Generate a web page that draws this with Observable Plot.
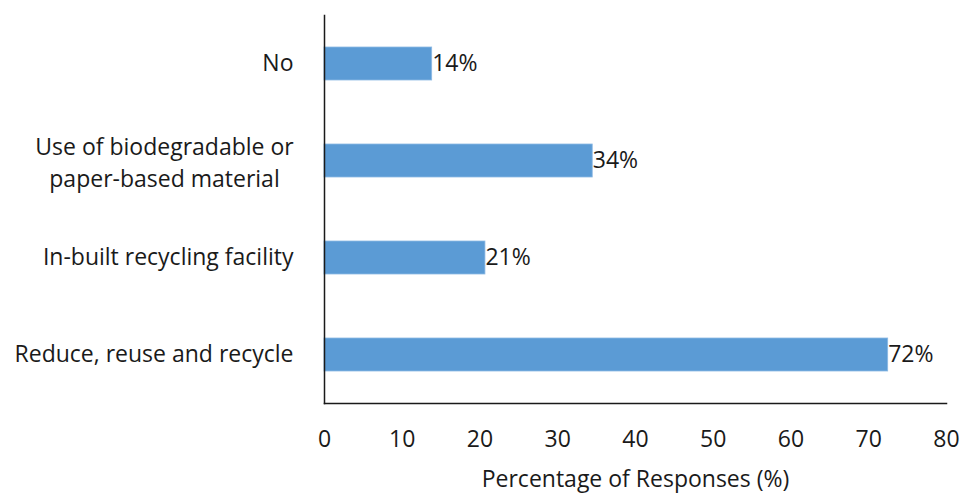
<!DOCTYPE html>
<html>
<head>
<meta charset="utf-8">
<script src="https://cdn.jsdelivr.net/npm/d3@7"></script>
<script src="https://cdn.jsdelivr.net/npm/@observablehq/plot@0.6"></script>
<style>
  body { margin: 0; background: #fff; }
  svg { font-family: "Open Sans", Lato, sans-serif; }
</style>
</head>
<body>
<div id="chart"></div>
<script>
const categories = [
  "No",
  "Use of biodegradable or\npaper-based material",
  "In-built recycling facility",
  "Reduce, reuse and recycle"
];
const values = [13.85, 34.5, 20.7, 72.5];
const valueLabels = ["14%", "34%", "21%", "72%"];
const xTicks = [0, 10, 20, 30, 40, 50, 60, 70, 80];
const xTitle = "Percentage of Responses (%)";

const data = categories.map((c, i) => ({category: c, value: values[i], label: valueLabels[i]}));
const multi = categories.filter(c => c.includes("\n"));
const single = categories.filter(c => !c.includes("\n"));

const ink = "#1a1a1a";
const fs = 23;
const chart = Plot.plot({
  width: 961,
  height: 493,
  marginTop: 15,
  marginBottom: 90,
  marginLeft: 324,
  marginRight: 15,
  style: {fontSize: fs + "px", color: ink, background: "#fff"},
  x: {domain: [0, 80], ticks: xTicks},
  y: {domain: categories, paddingInner: 0.66, paddingOuter: 0.33, axis: null},
  marks: [
    Plot.barX(data, {x: "value", y: "category", fill: "#5B9BD5", stroke: "#8DB9E3", strokeWidth: 0.8}),
    Plot.text(data, {x: "value", y: "category", text: "label", textAnchor: "start", dx: 0, fill: ink, fontSize: fs}),
    Plot.text(single, {y: d => d, frameAnchor: "left", textAnchor: "end", dx: -31, text: d => d, fill: ink, fontSize: fs}),
    Plot.text(multi, {y: d => d, frameAnchor: "left", textAnchor: "middle", dx: -160, text: d => d, fill: ink, fontSize: fs, lineHeight: 1.39}),
    Plot.axisX({ticks: xTicks, tickSize: 0, tickPadding: 27, fontSize: fs, label: xTitle, labelAnchor: "center", labelArrow: "none", labelOffset: 83}),
    Plot.frame({anchor: "bottom", stroke: ink, strokeWidth: 1.5}),
    Plot.frame({anchor: "left", stroke: ink, strokeWidth: 1.5})
  ]
});
document.getElementById("chart").append(chart);
</script>
</body>
</html>
